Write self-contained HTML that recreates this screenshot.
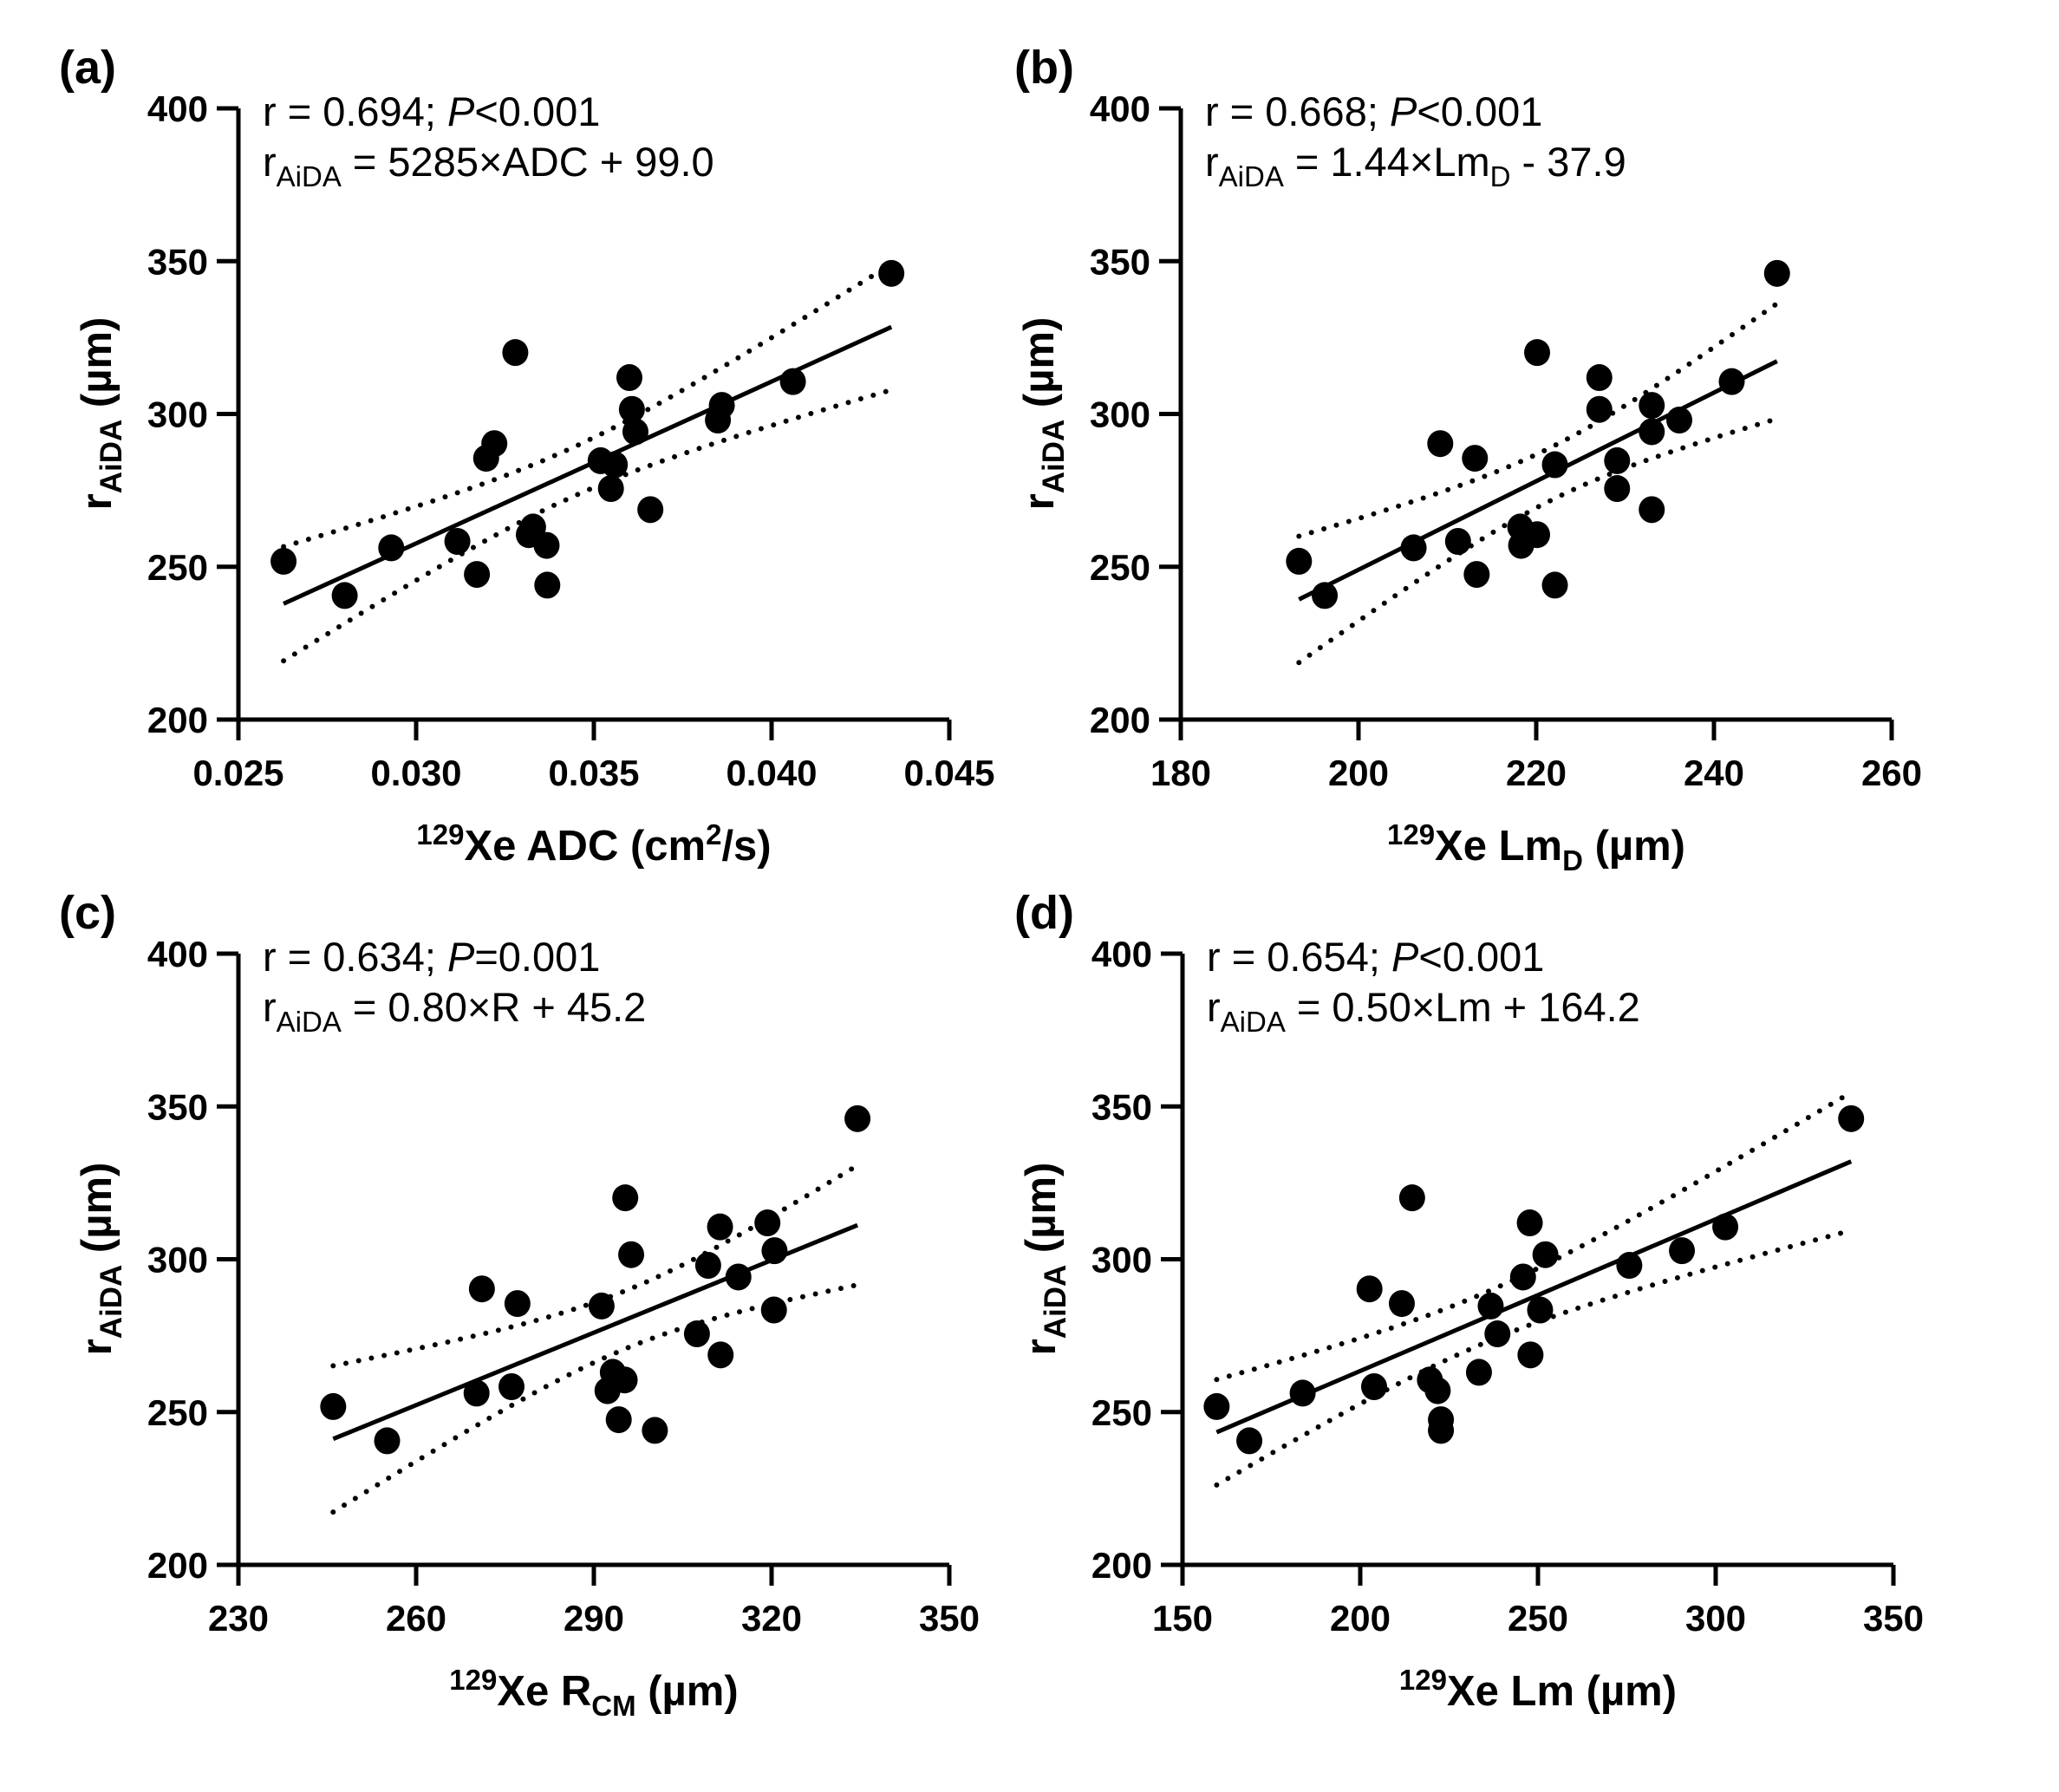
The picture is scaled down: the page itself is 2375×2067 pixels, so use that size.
<!DOCTYPE html>
<html><head><meta charset="utf-8"><style>
html,body{margin:0;padding:0;background:#fff}
svg{display:block}
text{font-family:"Liberation Sans",Arial,sans-serif;fill:#000}
.tick{font-weight:bold;font-size:42px}
.ttl{font-weight:bold;font-size:49px}
.ann{font-size:47px}
</style></head><body>
<svg id="fig" width="2375" height="2067" viewBox="0 0 2375 2067" xmlns="http://www.w3.org/2000/svg"></svg>
<script>
// shared y values (rAiDA, µm)
const aY=[251.8,240.6,256.2,258.3,247.5,285.5,290.3,320.1,260.5,263,257,244,284.7,275.6,283.4,311.9,301.5,294.2,268.7,298,302.8,310.6,346];
const aX=[0.02627,0.02799,0.02930,0.03116,0.03171,0.03197,0.03220,0.03279,0.03317,0.03329,0.03367,0.03369,0.03519,0.03548,0.03559,0.03600,0.03607,0.03617,0.03659,0.03849,0.03860,0.04060,0.04337];
const bY=[251.8,240.6,256.2,290.3,258.3,285.5,247.5,263,257,320.1,260.5,283.4,244,311.9,301.5,284.7,275.6,302.8,294.2,268.7,298,310.6,346];
const bX=[193.3,196.2,206.2,209.2,211.2,213.1,213.3,218.2,218.3,220.1,220.1,222.1,222.1,227.1,227.1,229.1,229.1,233.0,233.0,233.0,236.1,242.0,247.1];
const cY=[251.8,240.6,290.3,285.5,256.2,258.3,320.1,301.5,284.7,263,260.5,257,247.5,244,310.6,311.9,302.8,298,294.2,275.6,268.7,283.4,346];
const cX=[246.0,255.1,271.1,277.1,270.2,276.1,295.3,296.3,291.3,293.2,295.2,292.3,294.2,300.3,311.3,319.3,320.5,309.3,314.4,307.4,311.4,320.4,334.5];
const dY=[251.8,240.6,256.2,290.3,258.3,285.5,320.1,260.5,257,247.5,244,263,284.7,275.6,294.2,311.9,268.7,283.4,301.5,298,302.8,310.6,346];
const dX=[159.6,168.8,183.8,202.6,203.9,211.7,214.6,219.6,221.8,222.7,222.7,233.4,236.7,238.6,245.8,247.7,247.9,250.6,252.1,275.7,290.5,302.7,338.1];
const aTicks=["0.025","0.030","0.035","0.040","0.045"];
const bTicks=["180","200","220","240","260"];
const cTicks=["230","260","290","320","350"];
const dTicks=["150","200","250","300","350"];
const yTicks=["200","250","300","350","400"];

const NS="http://www.w3.org/2000/svg";
const svg=document.getElementById('fig');
function mk(tag,attrs,parent){const e=document.createElementNS(NS,tag);for(const k in attrs)e.setAttribute(k,attrs[k]);(parent||svg).appendChild(e);return e;}

const panels=[
 {id:'a',L:275,T:125,xs:aX,ys:aY,ticks:aTicks,x0:0.025,x1:0.045,label:'(a)',lx:68,ly:96,
  l1:['0.694','<0.001'],eq:' = 5285×ADC + 99.0',xt:[['129','sup'],['Xe ADC (cm',''],['2','sup'],['/s)','']]},
 {id:'b',L:1362,T:125,xs:bX,ys:bY,ticks:bTicks,x0:180,x1:260,label:'(b)',lx:1170,ly:96,
  l1:['0.668','<0.001'],eq:[' = 1.44×Lm',['D','sub'],' - 37.9'],xt:[['129','sup'],['Xe Lm',''],['D','sub'],[' (µm)','']]},
 {id:'c',L:275,T:1100,xs:cX,ys:cY,ticks:cTicks,x0:230,x1:350,label:'(c)',lx:68,ly:1071,
  l1:['0.634','=0.001'],eq:' = 0.80×R + 45.2',xt:[['129','sup'],['Xe R',''],['CM','sub'],[' (µm)','']]},
 {id:'d',L:1364,T:1100,xs:dX,ys:dY,ticks:dTicks,x0:150,x1:350,label:'(d)',lx:1170,ly:1071,
  l1:['0.654','<0.001'],eq:' = 0.50×Lm + 164.2',xt:[['129','sup'],['Xe Lm (µm)','']]}
];
const W=820,H=705;

panels.forEach(p=>{
  const g=mk('g',{});
  
  
  const sx=v=>p.L+(v-p.x0)/(p.x1-p.x0)*W;
  const sy=v=>p.T+H-(v-200)/200*H;
  const B=p.T+H,R=p.L+W;
  const lab=mk('text',{x:p.lx,y:p.ly,'font-size':54,'font-weight':'bold'},g);lab.textContent=p.label;
  
  
  const ax=mk('path',{d:`M${p.L},${p.T} V${B} H${R}`,stroke:'#000','stroke-width':5,fill:'none'},g);
  
  
  yTicks.forEach(t=>{
    const y=sy(+t);
    mk('line',{x1:p.L-25,x2:p.L,y1:y,y2:y,stroke:'#000','stroke-width':5},g);
    const tx=mk('text',{x:p.L-35,y:y+15,'text-anchor':'end',class:'tick'},g);tx.textContent=t;
    
    
  });
  p.ticks.forEach(t=>{
    const x=sx(+t);
    mk('line',{x1:x,x2:x,y1:B,y2:B+24,stroke:'#000','stroke-width':5},g);
    const tx=mk('text',{x:x,y:B+76,'text-anchor':'middle',class:'tick'},g);tx.textContent=t;
    
    
  });
  const yt=mk('text',{transform:`translate(${p.L-147},${p.T+352}) rotate(-90)`,'text-anchor':'middle',class:'ttl'},g);
  
  
  let s=mk('tspan',{},yt);s.textContent='r';
  s=mk('tspan',{dy:12,'font-size':35},yt);s.textContent='AiDA';
  s=mk('tspan',{dy:-12},yt);s.textContent=' (µm)';
  const xt=mk('text',{x:p.L+W/2,y:B+162,'text-anchor':'middle',class:'ttl'},g);
  
  
  let prev='';
  p.xt.forEach(([str,kind])=>{
    let dy=0;
    if(kind==='sup'){dy=prev==='sub'?-30:-18;}
    else if(kind==='sub'){dy=prev==='sup'?30:12;}
    else {dy=prev==='sup'?18:prev==='sub'?-12:0;}
    const a={dy:dy};if(kind)a['font-size']=33;
    const t=mk('tspan',a,xt);t.textContent=str;prev=kind;
  });
  const an1=mk('text',{x:p.L+28,y:p.T+20,class:'ann'},g);
  
  
  s=mk('tspan',{},an1);s.textContent='r = '+p.l1[0]+'; ';
  s=mk('tspan',{'font-style':'italic'},an1);s.textContent='P';
  s=mk('tspan',{},an1);s.textContent=p.l1[1];
  const an2=mk('text',{x:p.L+28,y:p.T+78,class:'ann'},g);
  
  
  s=mk('tspan',{},an2);s.textContent='r';
  s=mk('tspan',{dy:12,'font-size':33},an2);s.textContent='AiDA';
  s=mk('tspan',{dy:-12},an2);
  if(typeof p.eq==='string'){s.textContent=p.eq;}
  else{s.textContent=p.eq[0];
    let t=mk('tspan',{dy:12,'font-size':33},an2);t.textContent=p.eq[1][0];
    t=mk('tspan',{dy:-12},an2);t.textContent=p.eq[2];}
  const n=p.xs.length;
  const mx=p.xs.reduce((a,b)=>a+b,0)/n, my=p.ys.reduce((a,b)=>a+b,0)/n;
  let sxx=0,sxy=0;for(let i=0;i<n;i++){sxx+=(p.xs[i]-mx)**2;sxy+=(p.xs[i]-mx)*(p.ys[i]-my);}
  const slope=sxy/sxx, icpt=my-slope*mx;
  let sse=0;for(let i=0;i<n;i++){sse+=(p.ys[i]-icpt-slope*p.xs[i])**2;}
  const se=Math.sqrt(sse/(n-2)), tc=2.080;
  const xmin=Math.min(...p.xs), xmax=Math.max(...p.xs);
  let up='',lo='';
  for(let k=0;k<=60;k++){
    const x=xmin+(xmax-xmin)*k/60, yh=icpt+slope*x;
    const h=tc*se*Math.sqrt(1/n+(x-mx)**2/sxx);
    up+=(k?'L':'M')+sx(x).toFixed(1)+','+sy(yh+h).toFixed(1);
    lo+=(k?'L':'M')+sx(x).toFixed(1)+','+sy(yh-h).toFixed(1);
  }
  const cu=mk('path',{d:up,stroke:'#000','stroke-width':6,fill:'none','stroke-linecap':'round','stroke-dasharray':'0 15'},g);
  
  
  const cl=mk('path',{d:lo,stroke:'#000','stroke-width':6,fill:'none','stroke-linecap':'round','stroke-dasharray':'0 15'},g);
  
  
  const rl=mk('line',{x1:sx(xmin),y1:sy(icpt+slope*xmin),x2:sx(xmax),y2:sy(icpt+slope*xmax),stroke:'#000','stroke-width':5},g);
  
  
  for(let i=0;i<n;i++){
    const c=mk('ellipse',{cx:sx(p.xs[i]),cy:sy(p.ys[i]),rx:15,ry:15.5,fill:'#000'},g);
    
    
  }
});
</script>
</body></html>
